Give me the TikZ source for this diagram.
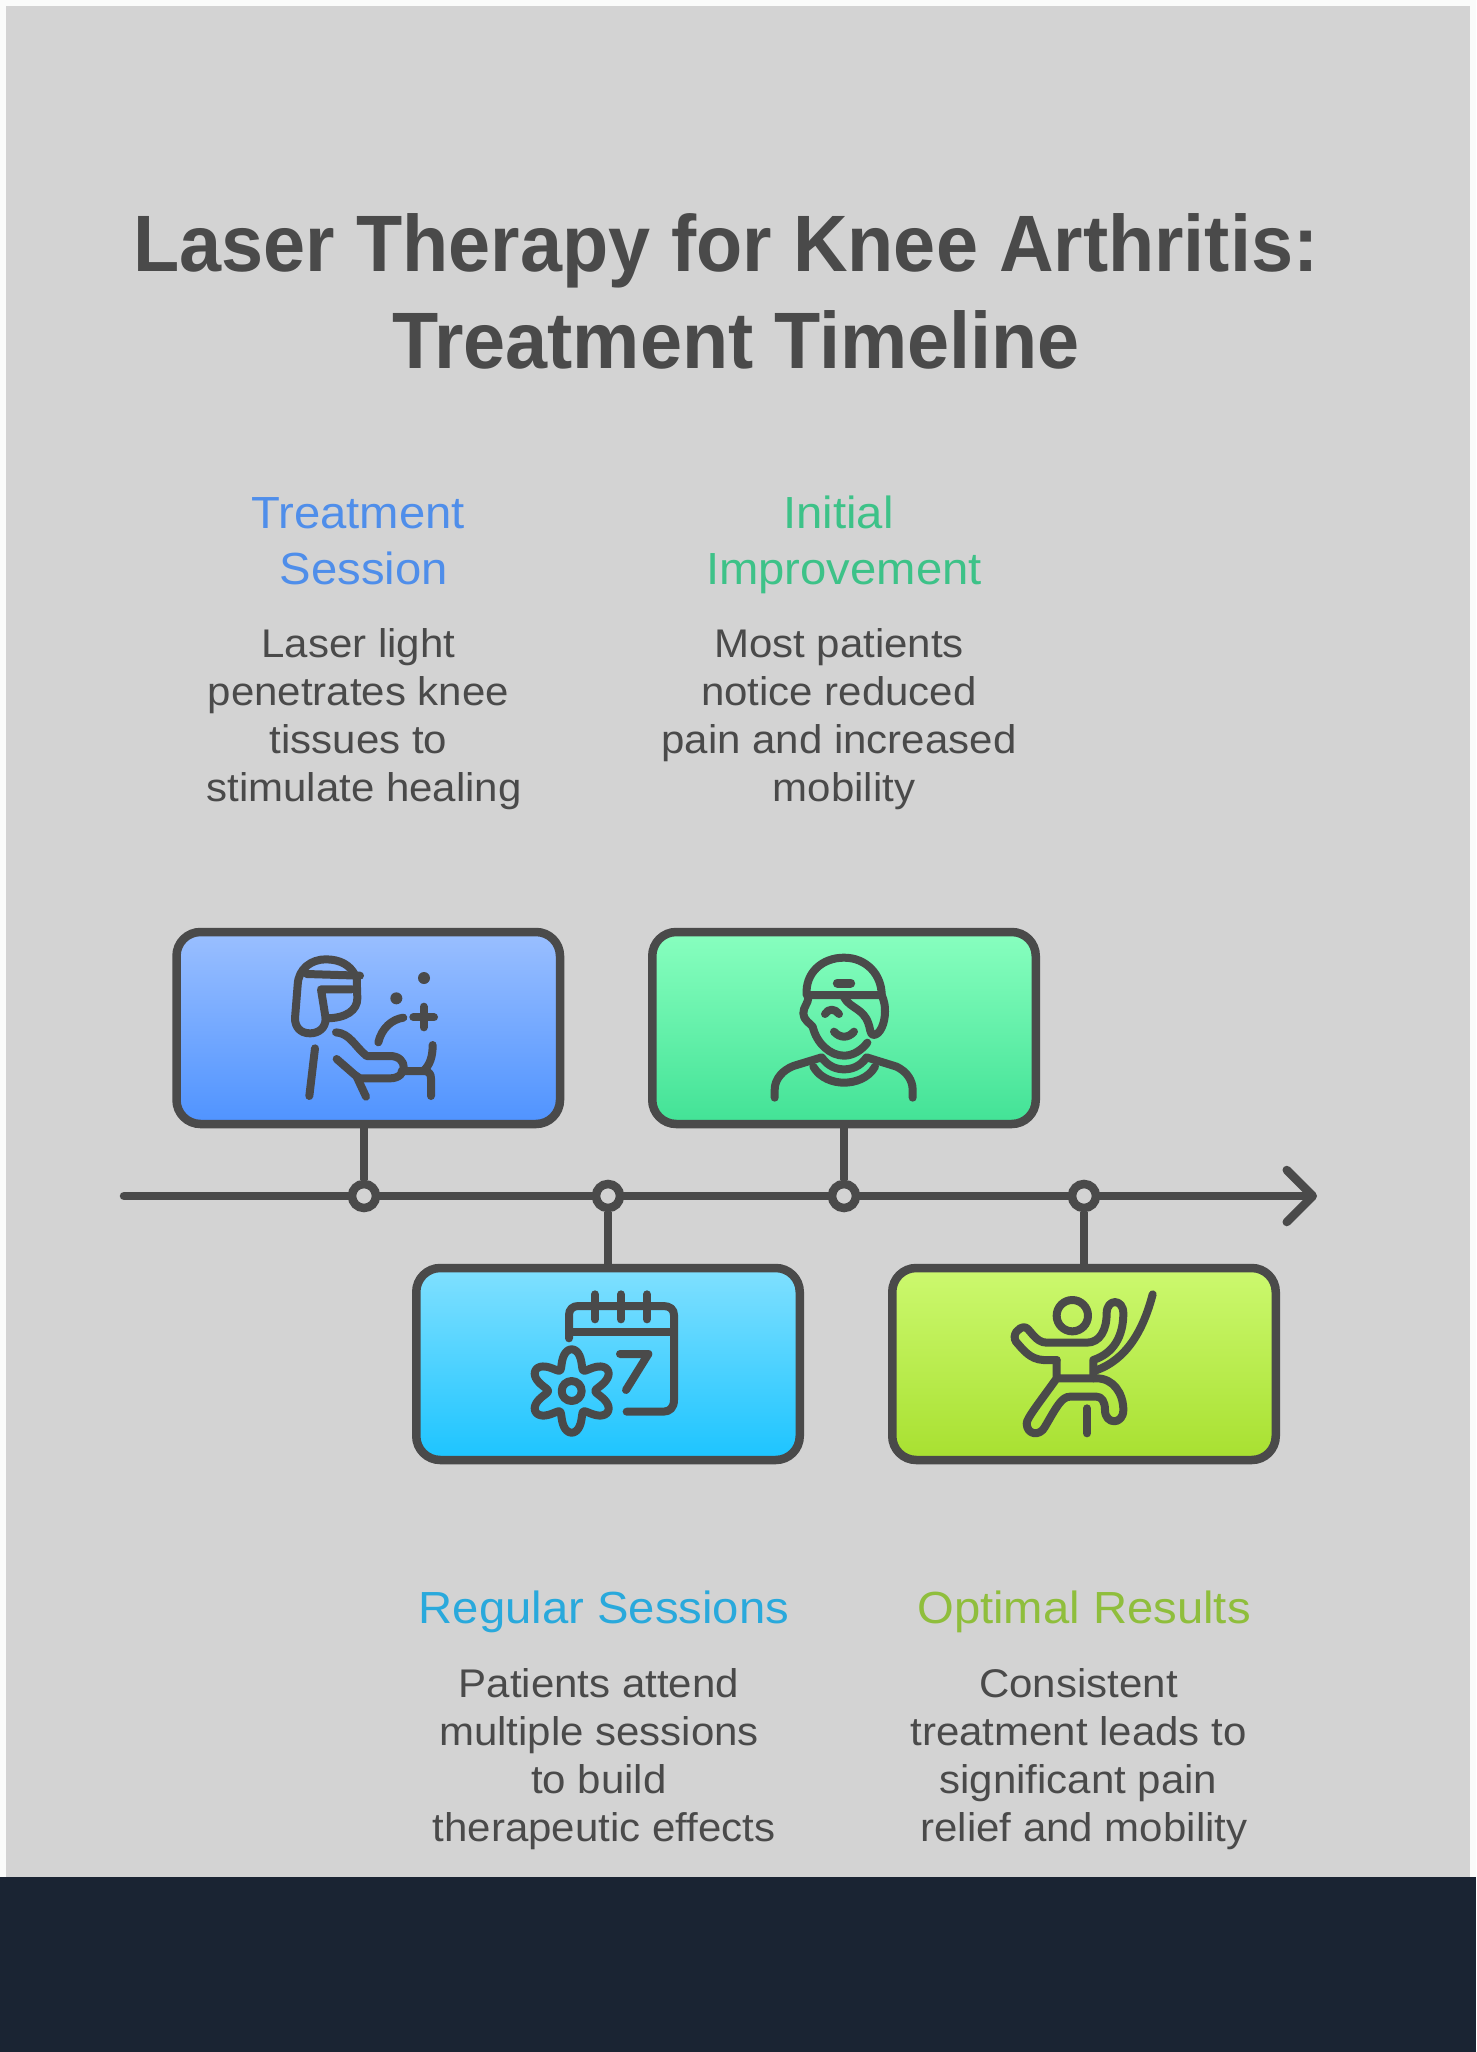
\documentclass[tikz,border=0pt]{standalone}
\usepackage{fontspec}
\setmainfont{Liberation Sans}[FakeStretch=1.05, BoldFeatures={FakeStretch=0.945}]
\usetikzlibrary{arrows.meta}

\definecolor{panelgray}{HTML}{D3D3D3}
\definecolor{pagewhite}{HTML}{FAFBFA}
\definecolor{footdark}{HTML}{1A2433}
\definecolor{inkgray}{HTML}{4A4A4A}
\definecolor{headblue}{HTML}{4F8EEA}
\definecolor{headgreen}{HTML}{3DC288}
\definecolor{headcyan}{HTML}{29A9DC}
\definecolor{headlime}{HTML}{8FBE3C}
\definecolor{blueTop}{HTML}{9ABFFF}
\definecolor{blueEnd}{HTML}{4F93FF}
\definecolor{greenTop}{HTML}{88FFBF}
\definecolor{greenEnd}{HTML}{42E296}
\definecolor{cyanTop}{HTML}{80E0FF}
\definecolor{cyanEnd}{HTML}{1CC4FF}
\definecolor{limeTop}{HTML}{CCF96F}
\definecolor{limeEnd}{HTML}{A8E030}

\tikzset{
  stagebox/.style={draw=inkgray, line width=8.5pt, rounded corners=24pt, minimum width=383.5pt, minimum height=192pt, inner sep=0pt},
  axisdot/.style={circle, draw=inkgray, fill=panelgray, line width=8.5pt, minimum size=24pt, inner sep=0pt},
  stem/.style={draw=inkgray, line width=8.5pt},
  glyph/.style={draw=inkgray, line width=8pt, line cap=round, line join=round},
  titletext/.style={anchor=base, text=inkgray, font=\fontsize{80}{96}\selectfont\bfseries},
  headtext/.style={anchor=base, font=\fontsize{45}{56}\selectfont},
  bodytext/.style={anchor=base, text=inkgray, font=\fontsize{40}{48}\selectfont}
}

\begin{document}
\begin{tikzpicture}[x=1pt, y=-1pt]

\useasboundingbox (0, 0) rectangle (1476, 2052);
\fill[pagewhite] (0, 0) rectangle (1476, 2052);
\fill[panelgray] (6, 6) rectangle (1470, 1877);
\fill[footdark] (0, 1877) rectangle (1476, 2052);

\node (titleA) [titletext] at (726, 272) {Laser Therapy for Knee Arthritis:};
\node (titleB) [titletext] at (736, 368) {Treatment Timeline};

% timeline
\coordinate (axisStart) at (124, 1196);
\coordinate (axisEnd) at (1317, 1196);
\draw[draw=inkgray, line width=8.5pt, line cap=round, -{Straight Barb[length=26pt, width=52pt, round]}] (axisStart) -- (axisEnd);

\node (dotA) [axisdot] at (364, 1196) {};
\node (dotB) [axisdot] at (608, 1196) {};
\node (dotC) [axisdot] at (844, 1196) {};
\node (dotD) [axisdot] at (1084, 1196) {};

\node (boxA) [stagebox, top color=blueTop, bottom color=blueEnd] at (368.25, 1028) {};
\node (boxC) [stagebox, top color=greenTop, bottom color=greenEnd] at (844, 1028) {};
\node (boxB) [stagebox, top color=cyanTop, bottom color=cyanEnd] at (608, 1364) {};
\node (boxD) [stagebox, top color=limeTop, bottom color=limeEnd] at (1084, 1364) {};

\draw[stem] (dotA.north |- boxA.south) -- (dotA.north);
\draw[stem] (boxC.south) -- (dotC.north);
\draw[stem] (dotB.south) -- (boxB.north);
\draw[stem] (dotD.south) -- (boxD.north);

% treatment session icon
\begin{scope}[shift={(160, 910)}, scale=1/3]
\draw[glyph] (497, 325) .. controls (497, 355) and (475, 370) .. (450, 370) .. controls (420, 370) and (405, 350) .. (405, 325) -- (413, 225) .. controls (415, 175) and (455, 148) .. (497, 148) .. controls (540, 148) and (570, 165) .. (585, 195);
\draw[glyph] (440, 192) -- (600, 197);
\draw[glyph] (590, 200) -- (592, 265) .. controls (592, 300) and (560, 325) .. (497, 325) -- (483, 238) -- (575, 238);
\draw[glyph] (528, 367) .. controls (570, 370) and (585, 410) .. (620, 438) -- (690, 438) .. controls (745, 438) and (745, 505) .. (690, 505) -- (600, 505) -- (585, 495) -- (530, 447);
\draw[glyph] (590, 500) -- (618, 560);
\draw[glyph] (465, 415) -- (448, 558);
\draw[glyph] (725, 483) -- (790, 483) .. controls (805, 483) and (813, 490) .. (813, 505) -- (813, 558);
\draw[glyph] (790, 483) .. controls (810, 465) and (818, 440) .. (818, 405);
\draw[glyph] (655, 397) .. controls (665, 355) and (695, 328) .. (730, 323);
\draw[glyph] (760, 322) -- (822, 322);
\draw[glyph] (791, 290) -- (791, 352);
\fill[inkgray] (709, 265) circle (18);
\fill[inkgray] (792, 204) circle (18);
\end{scope}

% initial improvement icon
\begin{scope}[shift={(640, 910)}, scale=1/3]
\draw[glyph] (500, 255) .. controls (495, 190) and (545, 143) .. (612, 143) .. controls (680, 143) and (725, 195) .. (725, 255) -- cycle;
\draw[glyph, line width=9pt] (592, 219) -- (632, 219);
\draw[glyph] (725, 255) .. controls (735, 280) and (735, 290) .. (735, 305) .. controls (735, 340) and (720, 375) .. (700, 375) .. controls (690, 375) and (690, 350) .. (685, 340) .. controls (670, 295) and (630, 295) .. (612, 262);
\draw[glyph] (505, 262) .. controls (505, 280) and (490, 290) .. (490, 310) .. controls (490, 330) and (510, 340) .. (518, 350) .. controls (530, 400) and (570, 437) .. (612, 437) .. controls (640, 437) and (665, 420) .. (682, 398);
\draw[glyph] (555, 312) .. controls (565, 295) and (585, 295) .. (597, 312);
\draw[glyph] (582, 365) .. controls (600, 385) and (625, 385) .. (642, 365);
\draw[glyph] (404, 563) -- (404, 540) .. controls (404, 505) and (430, 480) .. (460, 468) -- (545, 442) .. controls (565, 470) and (590, 478) .. (612, 478) .. controls (635, 478) and (660, 470) .. (680, 442) -- (770, 470) .. controls (800, 485) and (818, 510) .. (818, 540) -- (818, 563);
\draw[glyph] (520, 470) .. controls (540, 505) and (580, 518) .. (612, 518) .. controls (645, 518) and (685, 505) .. (705, 470);
\end{scope}

% regular sessions icon
\begin{scope}[shift={(400, 1250)}, scale=1/3]
\draw[glyph] (507, 265) -- (507, 195) .. controls (507, 178) and (518, 168) .. (535, 168) -- (790, 168) .. controls (810, 168) and (822, 178) .. (822, 195) -- (822, 450) .. controls (822, 472) and (810, 485) .. (790, 485) -- (680, 485);
\draw[glyph] (515, 247) -- (815, 247);
\foreach \ringx in {585, 663, 741}
  \draw[glyph] (\ringx, 133) -- (\ringx, 208);
\draw[glyph] (660, 312) -- (745, 312) -- (678, 420);
\draw[glyph] plot[domain=0:360, samples=145, smooth] ({515 + (100 - 27*cos(6*\x) - 2*cos(12*\x))*cos(\x)}, {423 + (100 - 27*cos(6*\x) - 2*cos(12*\x))*sin(\x)}) -- cycle;
\draw[glyph] (515, 423) circle (30);
\end{scope}

% optimal results icon
\begin{scope}[shift={(880, 1250)}, scale=1/3]
\draw[glyph] (577, 197) circle (47);
\draw[glyph] (818, 133) .. controls (790, 240) and (740, 330) .. (645, 362);
\draw[glyph] (530, 330) -- (490, 330) .. controls (450, 328) and (430, 300) .. (408, 275) .. controls (395, 255) and (415, 230) .. (435, 232) .. controls (450, 235) and (465, 278) .. (500, 278) -- (620, 278) .. controls (660, 278) and (680, 240) .. (680, 190) .. controls (680, 145) and (730, 145) .. (730, 190) .. controls (730, 260) and (700, 310) .. (640, 330) -- (640, 385);
\draw[glyph] (530, 330) -- (530, 385) -- (650, 385) .. controls (700, 385) and (730, 430) .. (730, 480) .. controls (730, 525) and (675, 525) .. (675, 480) .. controls (675, 455) and (665, 440) .. (650, 440) -- (570, 440) .. controls (545, 440) and (530, 470) .. (495, 530) .. controls (480, 560) and (440, 555) .. (440, 520) .. controls (440, 505) and (480, 455) .. (530, 385);
\draw[glyph] (621, 475) -- (621, 550);
\end{scope}

% upper texts
\node (headA1) [headtext, text=headblue] at (358, 528) {Treatment};
\node (headA2) [headtext, text=headblue] at (364, 584) {Session};
\node (bodyA1) [bodytext] at (358.5, 657) {Laser light};
\node (bodyA2) [bodytext] at (358.5, 705) {penetrates knee};
\node (bodyA3) [bodytext] at (358.5, 753) {tissues to};
\node (bodyA4) [bodytext] at (364, 801) {stimulate healing};

\node (headC1) [headtext, text=headgreen] at (838.5, 528) {Initial};
\node (headC2) [headtext, text=headgreen] at (844, 584) {Improvement};
\node (bodyC1) [bodytext] at (839, 657) {Most patients};
\node (bodyC2) [bodytext] at (839, 705) {notice reduced};
\node (bodyC3) [bodytext] at (839, 753) {pain and increased};
\node (bodyC4) [bodytext] at (844, 801) {mobility};

% lower texts
\node (headB1) [headtext, text=headcyan] at (604, 1623) {Regular Sessions};
\node (bodyB1) [bodytext] at (599, 1697) {Patients attend};
\node (bodyB2) [bodytext] at (599, 1745) {multiple sessions};
\node (bodyB3) [bodytext] at (599, 1793) {to build};
\node (bodyB4) [bodytext] at (604, 1841) {therapeutic effects};

\node (headD1) [headtext, text=headlime] at (1084, 1623) {Optimal Results};
\node (bodyD1) [bodytext] at (1078.5, 1697) {Consistent};
\node (bodyD2) [bodytext] at (1078.5, 1745) {treatment leads to};
\node (bodyD3) [bodytext] at (1078.5, 1793) {significant pain};
\node (bodyD4) [bodytext] at (1084, 1841) {relief and mobility};

\end{tikzpicture}
\end{document}
